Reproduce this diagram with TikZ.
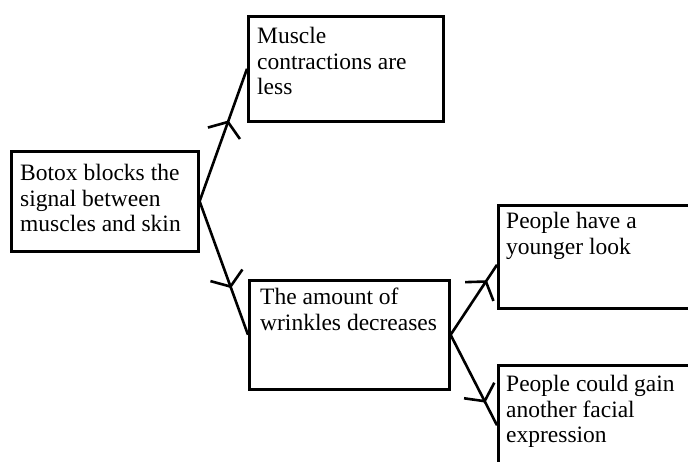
\documentclass[tikz,border=0pt]{standalone}
\usepackage{fontspec}
\setmainfont{Liberation Serif}
\usetikzlibrary{arrows.meta,decorations.markings}
\begin{document}
\begin{tikzpicture}[x=1pt,y=-1pt,
  box/.style={draw,line width=2.6pt,anchor=north west,inner sep=0pt},
  txt/.style={anchor=north west,inner sep=0pt,align=left,font=\fontsize{23.5}{25.5}\selectfont},
  conn/.style={line width=2.6pt,postaction={decorate},
    decoration={markings,mark=at position #1 with {\arrow{Straight Barb[length=12pt,width=34pt,line width=2.6pt]}}}},
  conn/.default=0.6]
\useasboundingbox (0,0) rectangle (688,462);
\clip (0,0) rectangle (688,462);
\fill[white] (0,0) rectangle (688,462);

\node[box,minimum width=187pt,minimum height=100pt] (A) at (10,150) {};
\node[box,minimum width=195pt,minimum height=105pt] (B) at (247,15) {};
\node[box,minimum width=200pt,minimum height=109pt] (C) at (248,279) {};
\node[box,minimum width=220pt,minimum height=103pt] (D) at (497,204) {};
\node[box,minimum width=220pt,minimum height=120pt] (E) at (497,364) {};

\node[txt] (tA) at (20,164) {Botox blocks the\\signal between\\muscles and skin};
\node[txt] (tB) at (257,27) {Muscle\\contractions are\\less};
\node[txt] (tC) at (260,288) {The amount of\\wrinkles decreases};
\node[txt] (tD) at (506,212) {People have a\\younger look};
\node[txt] (tE) at (506,375) {People could gain\\another facial\\expression};

\coordinate (Din) at ([yshift=-8pt]D.west);
\draw[conn=0.61] (A.east) -- (B.west);
\draw[conn=0.65] (A.east) -- (C.west);
\draw[conn=0.78] (C.east) -- (Din);
\draw[conn=0.75] (C.east) -- (E.west);
\end{tikzpicture}
\end{document}
